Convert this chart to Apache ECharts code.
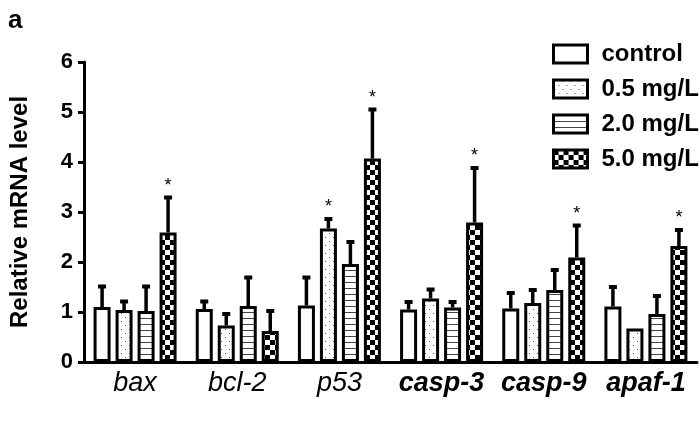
<!DOCTYPE html>
<html><head><meta charset="utf-8">
<script src="https://cdn.jsdelivr.net/npm/echarts@6/dist/echarts.min.js"></script>
<style>html,body{margin:0;padding:0;background:#fff}#c{width:699px;height:440px}</style>
</head><body><div id="c"></div>
<script>
var categories = ['bax', 'bcl-2', 'p53', 'casp-3', 'casp-9', 'apaf-1'];
var boldCats = ['casp-3', 'casp-9', 'apaf-1'];
var seriesNames = ['control', '0.5 mg/L', '2.0 mg/L', '5.0 mg/L'];
var controlVals = [1.10, 1.06, 1.13, 1.05, 1.07, 1.11];
var low05Vals   = [1.04, 0.73, 2.67, 1.27, 1.18, 0.67];
var mid20Vals   = [1.02, 1.12, 1.96, 1.09, 1.44, 0.96];
var high50Vals  = [2.59, 0.62, 4.07, 2.79, 2.09, 2.32];
var controlErr  = [1.52, 1.22, 1.70, 1.21, 1.39, 1.51];
var low05Err    = [1.22, 0.97, 2.87, 1.46, 1.45, 0.67];
var mid20Err    = [1.52, 1.70, 2.41, 1.21, 1.85, 1.33];
var high50Err   = [3.30, 1.03, 5.06, 3.89, 2.74, 2.65];
var controlSig  = [0, 0, 0, 0, 0, 0];
var low05Sig    = [0, 0, 1, 0, 0, 0];
var mid20Sig    = [0, 0, 0, 0, 0, 0];
var high50Sig   = [1, 0, 1, 1, 1, 1];
var yTicks = [0, 1, 2, 3, 4, 5, 6];

var FONT = '"Liberation Sans", Arial, Helvetica, sans-serif';

function mk(w, h, draw) {
  var c = document.createElement('canvas'); c.width = w; c.height = h;
  var g = c.getContext('2d'); g.fillStyle = '#fff'; g.fillRect(0, 0, w, h); draw(g); return c;
}
var dotPat = mk(8, 8, function (g) { g.fillStyle = '#555'; g.fillRect(1, 1, 1, 1); g.fillRect(5, 5, 1, 1); });
var stripePat = mk(4, 6, function (g) { g.fillStyle = '#444'; g.fillRect(0, 0, 4, 1); });
var checkPat = mk(10, 10, function (g) { g.fillStyle = '#000'; g.fillRect(0, 0, 5, 5); g.fillRect(5, 5, 5, 5); });

var fills = ['#ffffff', { image: dotPat, repeat: 'repeat' }, { image: stripePat, repeat: 'repeat' }, { image: checkPat, repeat: 'repeat' }];
var vals = [controlVals, low05Vals, mid20Vals, high50Vals];
var errs = [controlErr, low05Err, mid20Err, high50Err];
var sigs = [controlSig, low05Sig, mid20Sig, high50Sig];

var BAR_W = 17, STEP = 22;

var series = [];
seriesNames.forEach(function (name, i) {
  series.push({
    name: name, type: 'bar', data: vals[i], barWidth: BAR_W, barGap: '29.4%',
    itemStyle: { color: fills[i], borderColor: '#000', borderWidth: 3 },
    z: 3, animation: false
  });
});
seriesNames.forEach(function (name, i) {
  var d = categories.map(function (c, k) { return [k, vals[i][k], errs[i][k], sigs[i][k]]; });
  series.push({
    type: 'custom', name: name + ' err', data: d, z: 2, animation: false, silent: true,
    renderItem: function (params, api) {
      var k = api.value(0), m = api.value(1), t = api.value(2), s = api.value(3);
      var p0 = api.coord([k, m]), p1 = api.coord([k, t]);
      var x = p0[0] + (i - 1.5) * STEP;
      var children = [];
      if (t > m + 0.001) {
        children.push({ type: 'line', shape: { x1: x, y1: p0[1], x2: x, y2: p1[1] }, style: { stroke: '#000', lineWidth: 3.5 } });
        children.push({ type: 'rect', shape: { x: x - 4, y: p1[1] - 1.5, width: 8, height: 4 }, style: { fill: '#000' } });
      }
      if (s) {
        children.push({ type: 'text', x: x, y: p1[1] - 2, style: { text: '*', font: '18px ' + FONT, fill: '#000', align: 'center', verticalAlign: 'bottom' } });
      }
      return { type: 'group', children: children };
    }
  });
});

var chart = echarts.init(document.getElementById('c'));
chart.setOption({
  animation: false,
  backgroundColor: '#fff',
  grid: { left: 78, right: 2, top: 62, bottom: 78, containLabel: false },
  graphic: [{ type: 'text', left: 8, top: 8, style: { text: 'a', font: 'bold 26px ' + FONT, fill: '#000' } }],
  legend: {
    orient: 'vertical', left: 547, top: 37, itemWidth: 34, itemHeight: 18, itemGap: 11,
    data: seriesNames, icon: 'rect', selectedMode: false,
    itemStyle: { borderColor: '#000', borderWidth: 3 },
    textStyle: { fontFamily: FONT, fontWeight: 'bold', fontSize: 24, lineHeight: 24, color: '#000', padding: [0, 0, 0, 9] }
  },
  xAxis: {
    type: 'category', data: categories,
    axisLine: { lineStyle: { color: '#000', width: 3 } },
    axisTick: { alignWithLabel: true, length: 6, lineStyle: { color: '#000', width: 2 } },
    axisLabel: {
      interval: 0, margin: 8, fontSize: 27, color: '#000', fontFamily: FONT, fontStyle: 'italic',
      formatter: function (v) { return boldCats.indexOf(v) >= 0 ? '{b|' + v + '}' : v; },
      rich: { b: { fontWeight: 'bold', fontStyle: 'italic', fontSize: 27, fontFamily: FONT, color: '#000' } }
    }
  },
  yAxis: {
    type: 'value', min: yTicks[0], max: yTicks[yTicks.length - 1], interval: 1,
    name: 'Relative mRNA level', nameLocation: 'middle', nameGap: 52, nameRotate: 90,
    nameTextStyle: { fontFamily: FONT, fontWeight: 'bold', fontSize: 24, color: '#000' },
    splitLine: { show: false },
    axisLine: { show: true, lineStyle: { color: '#000', width: 3 } },
    axisTick: { show: true, length: 6, lineStyle: { color: '#000', width: 3 } },
    axisLabel: { fontFamily: FONT, fontWeight: 'bold', fontSize: 22, color: '#000', margin: 11 }
  },
  series: series
});
</script></body></html>
